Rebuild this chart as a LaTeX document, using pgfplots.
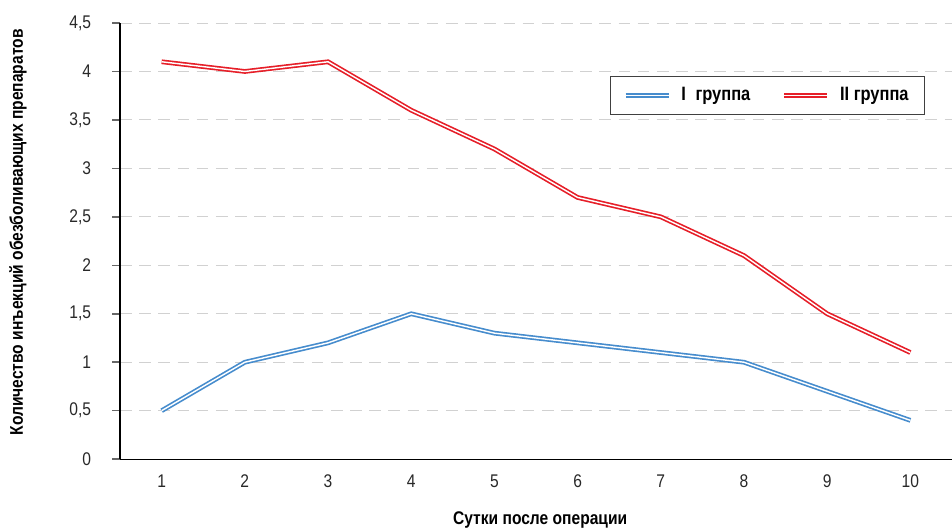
\documentclass[border=0pt]{standalone}
\usepackage{fontspec}
\setmainfont{Liberation Sans}[FakeStretch=0.85]
\usepackage{pgfplots}
\pgfplotsset{compat=1.18}
\definecolor{myred}{RGB}{230,30,40}
\definecolor{myblue}{RGB}{70,140,205}
\definecolor{txt}{RGB}{40,40,40}
\begin{document}
\begin{tikzpicture}
\begin{axis}[
  scale only axis, width=499pt, height=261.6pt,
  xmin=0.5, xmax=10.5, ymin=0, ymax=4.5,
  xtick={1,2,3,4,5,6,7,8,9,10},
  ytick={0,0.5,1,1.5,2,2.5,3,3.5,4,4.5},
  axis lines*=left,
  axis line style={black, line width=0.7pt},
  tick align=outside,
  major tick length=4.8pt,
  x tick style={draw=none},
  y tick style={black!60, line width=0.9pt},
  ymajorgrids,
  grid style={black!18, line width=0.6pt, dash pattern=on 7pt off 4.5pt},
  /pgf/number format/assume math mode=true,
  /pgf/number format/use comma,
  tick label style={font=\fontsize{11}{13}\selectfont, text=txt},
  yticklabel style={xshift=-9pt},
  xticklabel style={yshift=-0.8pt},
  xlabel={Сутки после операции},
  ylabel={Количество инъекций обезболивающих препаратов},
  label style={font=\fontsize{11}{13}\selectfont\bfseries},
  xlabel style={at={(axis description cs:0.505,-0.14)}, anchor=center},
  ylabel style={at={(axis description cs:-0.1226,0.52)}, anchor=center, rotate=0},
  legend columns=2,
  legend style={at={(rel axis cs:0.9675,0.878)}, anchor=north east,
    draw=black!75, line width=0.6pt, font=\fontsize{11.6}{13}\selectfont\bfseries,
    inner xsep=7.5pt, inner ysep=4.5pt,
    /tikz/every even column/.append style={column sep=17pt}},
  legend image code/.code={\draw[#1, line width=1.0pt, double=white, double distance=0.85pt] (0pt,0pt) -- (25.8pt,0pt); \path (30pt,0pt);},
  every axis plot/.append style={line width=1.0pt, double=white, double distance=0.85pt},
]
\addplot[myblue, no markers] coordinates {
(1,0.5) (2,1.0) (3,1.2) (4,1.5) (5,1.3) (6,1.2) (7,1.1) (8,1.0) (9,0.7) (10,0.4)};
\addlegendentry{I\hspace{0.5em}группа}
\addplot[myred, no markers] coordinates {
(1,4.1) (2,4.0) (3,4.1) (4,3.6) (5,3.2) (6,2.7) (7,2.5) (8,2.1) (9,1.5) (10,1.1)};
\addlegendentry{II группа}
\end{axis}
\pgfresetboundingbox
\path ([xshift=-72pt,yshift=-42.6pt]current axis.south west) rectangle ([yshift=13.8pt]current axis.north east);
\end{tikzpicture}
\end{document}
